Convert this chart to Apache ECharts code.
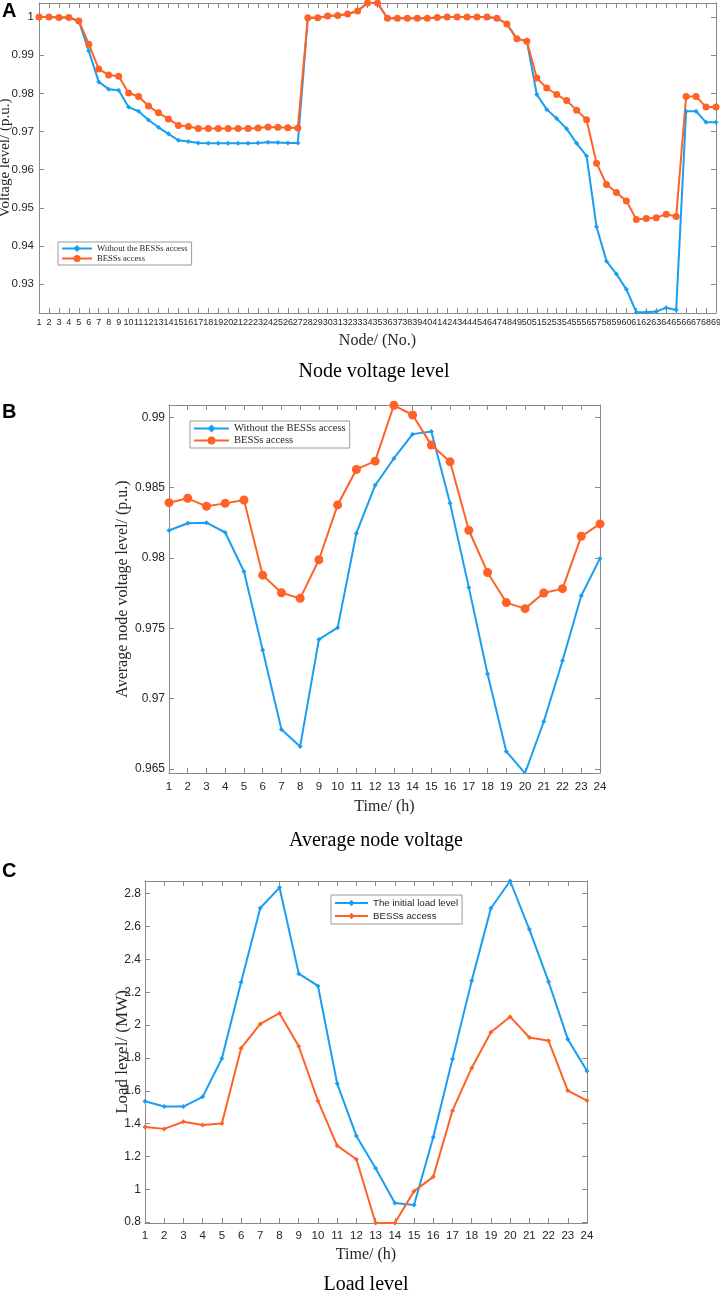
<!DOCTYPE html>
<html>
<head>
<meta charset="utf-8">
<script src="https://cdn.jsdelivr.net/npm/echarts@6/dist/echarts.min.js"></script>
<style>
html,body{margin:0;padding:0;background:#fff;}
#chart{width:720px;height:1291px;}
</style>
</head>
<body>
<div id="chart"></div>
<script>
// ---------- Panel A data ----------
const nodeLabels = ['1','2','3','4','5','6','7','8','9','10','11','12','13','14','15','16','17','18','19','20',
'21','22','23','24','25','26','27','28','29','30','31','32','33','34','35','36','37','38','39','40',
'41','42','43','44','45','46','47','48','49','50','51','52','53','54','55','56','57','58','59','60',
'61','62','63','64','65','66','67','68','69'];
const voltWithout = [1.0000,1.0000,0.9999,0.9999,0.9989,0.9911,0.9830,0.9811,0.9808,0.9764,
0.9753,0.9730,0.9711,0.9694,0.9677,0.9674,0.9670,0.9669,0.9669,0.9669,
0.9669,0.9669,0.9670,0.9672,0.9671,0.9670,0.9670,0.9998,0.9998,1.0003,
1.0004,1.0008,1.0016,1.0037,1.0037,0.9997,0.9997,0.9997,0.9997,0.9997,
0.9999,1.0000,1.0000,1.0000,1.0000,1.0000,0.9997,0.9982,0.9943,0.9937,
0.9797,0.9758,0.9734,0.9707,0.9669,0.9636,0.9450,0.9360,0.9326,0.9286,
0.9226,0.9226,0.9228,0.9238,0.9232,0.9753,0.9753,0.9724,0.9724];
const voltBess = [1.0000,1.0000,0.9999,0.9999,0.9990,0.9929,0.9864,0.9848,0.9845,0.9801,
0.9792,0.9767,0.9749,0.9733,0.9716,0.9713,0.9708,0.9708,0.9708,0.9708,
0.9708,0.9708,0.9709,0.9712,0.9711,0.9710,0.9709,0.9998,0.9998,1.0003,
1.0004,1.0008,1.0016,1.0037,1.0037,0.9997,0.9997,0.9997,0.9997,0.9997,
0.9999,1.0000,1.0000,1.0000,1.0000,1.0000,0.9997,0.9982,0.9943,0.9937,
0.9840,0.9814,0.9797,0.9781,0.9756,0.9731,0.9617,0.9561,0.9540,0.9518,
0.9469,0.9472,0.9474,0.9483,0.9477,0.9792,0.9792,0.9764,0.9764];
const ticksA = [0.93,0.94,0.95,0.96,0.97,0.98,0.99,1.00];

// ---------- Panel B data ----------
const hourLabels = ['1','2','3','4','5','6','7','8','9','10','11','12','13','14','15','16','17','18','19','20','21','22','23','24'];
const avgWithout = [0.98195,0.98247,0.98251,0.98181,0.97904,0.97346,0.96781,0.96661,0.97421,0.97505,
0.98176,0.98516,0.98707,0.98880,0.98898,0.98388,0.97791,0.97176,0.96625,0.96470,
0.96838,0.97270,0.97732,0.97997];
const avgBess = [0.98393,0.98424,0.98367,0.98388,0.98412,0.97878,0.97753,0.97713,0.97987,0.98377,
0.98629,0.98688,0.99085,0.99016,0.98802,0.98683,0.98197,0.97897,0.97683,0.97640,
0.97751,0.97782,0.98154,0.98242];
const ticksB = [0.965,0.97,0.975,0.98,0.985,0.99];

// ---------- Panel C data ----------
const loadInitial = [1.536,1.504,1.504,1.563,1.796,2.261,2.713,2.837,2.313,2.238,
1.644,1.325,1.128,0.917,0.905,1.317,1.794,2.269,2.711,2.877,
2.583,2.264,1.914,1.721];
const loadBess = [1.380,1.368,1.411,1.392,1.400,1.859,2.007,2.072,1.871,1.538,
1.266,1.183,0.795,0.795,0.989,1.076,1.479,1.739,1.956,2.051,
1.924,1.904,1.601,1.540];
const ticksC = [0.8,1.0,1.2,1.4,1.6,1.8,2.0,2.2,2.4,2.6,2.8];

const legendText = {
  aW:'Without the BESSs access', aB:'BESSs access',
  bW:'Without the BESSs access', bB:'BESSs access',
  cW:'The initial load level', cB:'BESSs access'
};

const BLUE = '#1a9ef2';
const ORANGE = '#ff6226';
const AXC = '#8a8a8a';
const TXT = '#262626';
const SANS = '"Liberation Sans", Arial, sans-serif';
const SERIF = '"Liberation Serif", "Times New Roman", serif';

function fmt(v){ return String(+(+v).toFixed(4)); }

function xAxes(gi, cats, fontSize, margin, name, nameGap){
  return [
    { gridIndex: gi, type:'category', data:cats, boundaryGap:false, position:'bottom',
      axisLine:{lineStyle:{color:AXC,width:1}},
      axisTick:{inside:true, length:5, interval:0, lineStyle:{color:AXC}},
      axisLabel:{interval:0, hideOverlap:false, color:TXT, fontFamily:SANS, fontSize:fontSize, margin:margin},
      splitLine:{show:false},
      name:name, nameLocation:'middle', nameGap:nameGap, nameMoveOverlap:false,
      nameTextStyle:{fontFamily:SERIF, fontSize:16, color:TXT} },
    { gridIndex: gi, type:'category', data:cats, boundaryGap:false, position:'top',
      axisLine:{lineStyle:{color:AXC,width:1}},
      axisTick:{inside:true, length:5, interval:0, lineStyle:{color:AXC}},
      axisLabel:{show:false}, splitLine:{show:false} }
  ];
}
function yAxes(gi, min, max, ticks, fontSize, margin, name, nameGap, nameSize){
  return [
    { gridIndex: gi, type:'value', min:min, max:max, position:'left',
      axisLine:{show:true, lineStyle:{color:AXC,width:1}},
      axisTick:{show:true, inside:true, length:5, customValues:ticks, lineStyle:{color:AXC}},
      axisLabel:{customValues:ticks, formatter:fmt, color:TXT, fontFamily:SANS, fontSize:fontSize, margin:margin},
      splitLine:{show:false},
      name:name, nameLocation:'middle', nameGap:nameGap, nameRotate:90, nameMoveOverlap:false,
      nameTextStyle:{fontFamily:SERIF, fontSize:nameSize, color:TXT} },
    { gridIndex: gi, type:'value', min:min, max:max, position:'right',
      axisLine:{show:true, lineStyle:{color:AXC,width:1}},
      axisTick:{show:true, inside:true, length:5, customValues:ticks, lineStyle:{color:AXC}},
      axisLabel:{show:false}, splitLine:{show:false} }
  ];
}
function lineSeries(name, xi, yi, data, color, symbol, size){
  return { name:name, type:'line', xAxisIndex:xi, yAxisIndex:yi, data:data,
    symbol:symbol, symbolSize:size, showSymbol:true,
    lineStyle:{color:color, width:2}, itemStyle:{color:color},
    emphasis:{disabled:true}, animation:false };
}

const chart = echarts.init(document.getElementById('chart'), null, {renderer:'canvas'});
chart.setOption({
  animation:false,
  backgroundColor:'#fff',
  title:[
    {text:'A', left:2, top:1, textStyle:{fontFamily:SANS, fontWeight:'bold', fontSize:20, color:'#000'}, padding:0},
    {text:'B', left:2, top:402, textStyle:{fontFamily:SANS, fontWeight:'bold', fontSize:20, color:'#000'}, padding:0},
    {text:'C', left:2, top:861, textStyle:{fontFamily:SANS, fontWeight:'bold', fontSize:20, color:'#000'}, padding:0},
    {text:'Node voltage level', left:374, textAlign:'center', top:362, padding:0, textStyle:{fontFamily:SERIF, fontWeight:'normal', fontSize:20, color:'#000'}},
    {text:'Average node voltage', left:376, textAlign:'center', top:831, padding:0, textStyle:{fontFamily:SERIF, fontWeight:'normal', fontSize:20, color:'#000'}},
    {text:'Load level', left:366, textAlign:'center', top:1275, padding:0, textStyle:{fontFamily:SERIF, fontWeight:'normal', fontSize:20, color:'#000'}}
  ],
  legend:[
    {data:['aW','aB'], formatter:n=>legendText[n], orient:'vertical', left:58, top:242,
     backgroundColor:'#fff', borderColor:'#9a9a9a', borderWidth:1, borderRadius:0, padding:[2,4,2,3], itemGap:1,
     itemWidth:30, itemHeight:9, textStyle:{fontFamily:SERIF, fontSize:8.6, color:TXT}, selectedMode:false},
    {data:['bW','bB'], formatter:n=>legendText[n], orient:'vertical', left:190, top:421,
     backgroundColor:'#fff', borderColor:'#9a9a9a', borderWidth:1, borderRadius:0, padding:[2,4,2,3], itemGap:1,
     itemWidth:35, itemHeight:10, textStyle:{fontFamily:SERIF, fontSize:10.6, color:TXT}, selectedMode:false},
    {data:['cW','cB'], formatter:n=>legendText[n], orient:'vertical', left:331, top:895,
     backgroundColor:'#fff', borderColor:'#9a9a9a', borderWidth:1, borderRadius:0, padding:[3,4,3,3], itemGap:3,
     itemWidth:33, itemHeight:8, textStyle:{fontFamily:SANS, fontSize:9.7, color:TXT}, selectedMode:false}
  ],
  grid:[
    {left:39, top:3, width:677, height:310, outerBoundsMode:'none', containLabel:false},
    {left:169, top:405, width:431, height:368, outerBoundsMode:'none', containLabel:false},
    {left:145, top:881, width:442, height:342, outerBoundsMode:'none', containLabel:false}
  ],
  xAxis:[].concat(
    xAxes(0, nodeLabels, 9, 5, 'Node/ (No.)', 20),
    xAxes(1, hourLabels, 11.5, 8, 'Time/ (h)', 26),
    xAxes(2, hourLabels, 11.5, 7, 'Time/ (h)', 24)
  ),
  yAxis:[].concat(
    yAxes(0, 0.9224, 1.0037, ticksA, 11.5, 5, 'Voltage level/ (p.u.)', 26, 15),
    yAxes(1, 0.96472, 0.99087, ticksB, 12, 4, 'Average node voltage level/ (p.u.)', 38, 16),
    yAxes(2, 0.795, 2.877, ticksC, 12, 4, 'Load level/ (MW)', 14, 17)
  ),
  series:[
    lineSeries('aW', 0, 0, voltWithout, BLUE, 'diamond', 5),
    lineSeries('aB', 0, 0, voltBess, ORANGE, 'circle', 7),
    lineSeries('bW', 2, 2, avgWithout, BLUE, 'diamond', 5),
    lineSeries('bB', 2, 2, avgBess, ORANGE, 'circle', 9),
    lineSeries('cW', 4, 4, loadInitial, BLUE, 'diamond', 5),
    lineSeries('cB', 4, 4, loadBess, ORANGE, 'diamond', 5)
  ]
});
</script>
</body>
</html>
